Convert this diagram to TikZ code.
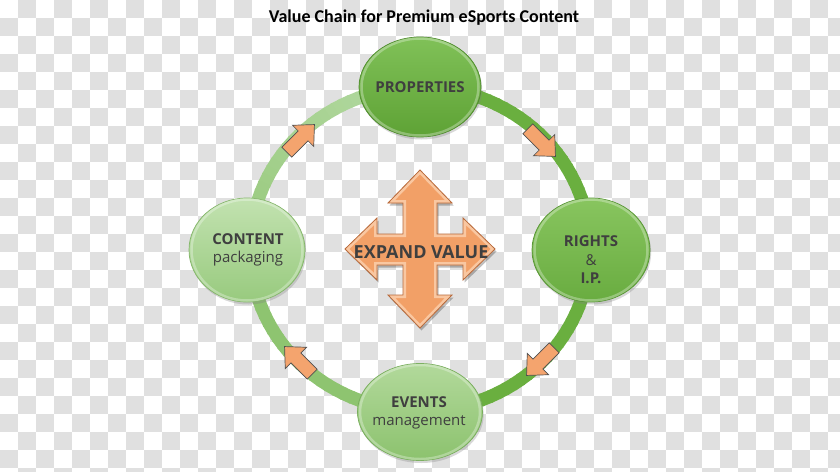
\documentclass[tikz,border=0pt]{standalone}
\usepackage{fontspec}
\setmainfont{Open Sans}
\newfontfamily\titlefont{Carlito}
\usetikzlibrary{shadows,shapes.geometric}

\definecolor{chk}{HTML}{E0E0E0}
\definecolor{ringdark}{HTML}{6AAF3F}
\definecolor{ringlight}{HTML}{BADDAB}
\definecolor{txt}{HTML}{3F3F3F}
\definecolor{orfill}{HTML}{F4A46E}
\definecolor{orline}{HTML}{505050}
\definecolor{crossfill}{HTML}{F2A067}
\definecolor{crossedge}{HTML}{F9C7A1}
\definecolor{crossline}{HTML}{B8693A}
\definecolor{propA}{HTML}{80C158}
\definecolor{propB}{HTML}{5EA235}
\definecolor{propL}{HTML}{4E8A2C}
\definecolor{rightA}{HTML}{88C55F}
\definecolor{rightB}{HTML}{69AC40}
\definecolor{rightL}{HTML}{579434}
\definecolor{contA}{HTML}{C2E2B0}
\definecolor{contB}{HTML}{98CA7E}
\definecolor{contL}{HTML}{84B56A}
\definecolor{evA}{HTML}{B2D99B}
\definecolor{evB}{HTML}{8CC26E}
\definecolor{evL}{HTML}{78AD5C}

\tikzset{
  stage/.style={ellipse, inner sep=0pt, line width=0.7pt,
    drop shadow={opacity=0.3, shadow xshift=1.2pt, shadow yshift=-2.5pt}},
  bevel/.style={white, opacity=0.3, line width=2.5pt},
  stagetext/.style={text=txt, align=center, inner sep=0pt,
    font=\fontsize{15}{18.5}\selectfont},
  flowarrowstyle/.style={fill=orfill, draw=orline, line width=0.7pt, line join=miter},
  flowarrow/.pic={\draw[flowarrowstyle] (-20,-7) -- (3,-7) -- (3,-15) -- (19,0) -- (3,15) -- (3,7) -- (-20,7) -- cycle;}
}

\begin{document}
\begin{tikzpicture}[x=1pt,y=-1pt]
\useasboundingbox (0,0) rectangle (840,471);
% checkerboard background
\fill[white] (0,0) rectangle (840,471);
\foreach \row in {0,...,26}{
  \pgfmathtruncatemacro\off{mod(\row+1,2)}
  \foreach \col in {0,...,23}{
    \fill[chk] ({(2*\col+\off)*18},{\row*18}) rectangle ++(18,18);
  }
}

% title
\node[font=\titlefont\bfseries\fontsize{18}{22}\selectfont, text=black] (title) at (424,18) {Value Chain for Premium eSports Content};

% ring
\foreach \v in {-90,-87,...,267}{
  \pgfmathtruncatemacro\tval{ifthenelse(\v<90,100,ifthenelse(\v<180,8+(\v-90)*0.4,55))}
  \draw[line width=13pt, ringdark!\tval!ringlight]
    ({420+170*cos(\v)},{249-162*sin(\v)}) -- ({420+170*cos(\v+3.6)},{249-162*sin(\v+3.6)});
}

% stages
\node[stage, minimum width=122pt, minimum height=100pt, top color=propA, bottom color=propB, draw=propL] (prop) at (420,87) {};
\node[stage, minimum width=118pt, minimum height=104pt, top color=rightA, bottom color=rightB, draw=rightL] (rights) at (591,250) {};
\node[stage, minimum width=116pt, minimum height=104pt, top color=contA, bottom color=contB, draw=contL] (content) at (247,250) {};
\node[stage, minimum width=125pt, minimum height=97pt, top color=evA, bottom color=evB, draw=evL] (events) at (420,412) {};
\draw[bevel] (prop.center) ellipse [x radius=58.5, y radius=48.5];
\draw[bevel] (rights.center) ellipse [x radius=56.5, y radius=50.5];
\draw[bevel] (content.center) ellipse [x radius=55.5, y radius=50.5];
\draw[bevel] (events.center) ellipse [x radius=60, y radius=47];

\node[stagetext, font=\bfseries\fontsize{15}{18.5}\selectfont] (proptext) at (420,87) {PROPERTIES};
\node[stagetext] (righttext) at (591,260) {\textbf{RIGHTS}\\\&\\\textbf{I.P.}};
\node[stagetext] (conttext) at (248,250) {\textbf{CONTENT}\\packaging};
\node[stagetext] (evtext) at (419,413) {\textbf{EVENTS}\\management};

% flow arrows on the ring
\pic[rotate=45] (a1) at (301,138) {flowarrow};
\pic[rotate=-45] (a2) at (542,143) {flowarrow};
\pic[rotate=-135] (a3) at (540,362) {flowarrow};
\pic[rotate=135] (a4) at (298,360) {flowarrow};

% central four-way arrow
\def\crosspath{(420,170) -- (452,203) -- (437,203) -- (437,234) -- (463,234) -- (463,218) -- (495,249) -- (463,280) -- (463,265) -- (437,265) -- (437,295) -- (452,295) -- (420,328) -- (388,295) -- (403,295) -- (403,265) -- (377,265) -- (377,280) -- (345,249) -- (377,218) -- (377,234) -- (403,234) -- (403,203) -- (388,203) -- cycle}
\fill[black, opacity=0.25] [xshift=1.5pt, yshift=-2.5pt] \crosspath;
\fill[crossfill] \crosspath;
\begin{scope}
  \clip \crosspath;
  \draw[crossedge, line width=6pt, line join=miter] \crosspath;
\end{scope}
\draw[crossline, line width=0.8pt, line join=miter] \crosspath;
\node[text=txt, font=\bfseries\fontsize{18}{21}\selectfont, inner sep=0pt] (expand) at (421,252) {EXPAND VALUE};
\end{tikzpicture}
\end{document}
